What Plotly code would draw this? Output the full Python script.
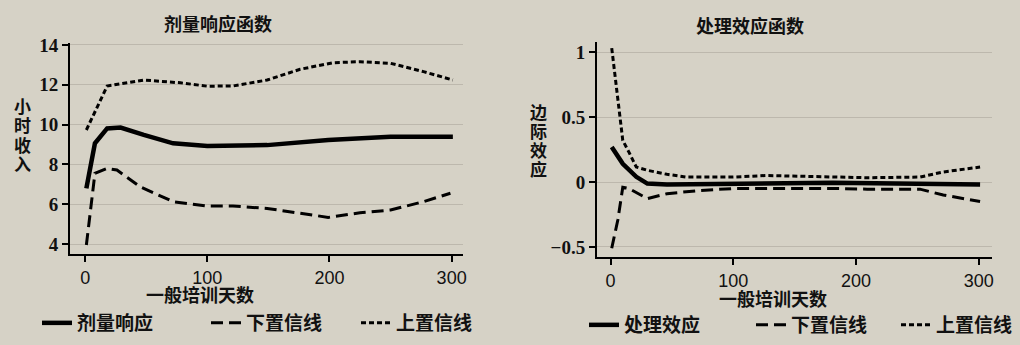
import plotly.graph_objects as go

# ---------------- data ----------------
# Left panel: dose-response function
drf_x = [1, 8, 18, 29, 48, 72, 100, 149, 199, 250, 301]
drf_y = [6.8, 9.06, 9.81, 9.85, 9.48, 9.06, 8.93, 8.97, 9.23, 9.39, 9.39]

drf_up_x = [1, 18, 48, 78, 100, 121, 149, 176, 203, 225, 250, 277, 301]
drf_up_y = [9.73, 11.94, 12.24, 12.1, 11.93, 11.94, 12.24, 12.78, 13.11, 13.16, 13.08, 12.66, 12.24]

drf_lo_x = [1, 8, 18, 26, 45, 72, 100, 121, 149, 176, 199, 225, 250, 277, 299]
drf_lo_y = [3.95, 7.55, 7.8, 7.72, 6.88, 6.13, 5.91, 5.91, 5.79, 5.54, 5.34, 5.57, 5.71, 6.13, 6.55]

# Right panel: treatment-effect function
tef_x = [1, 10, 21, 30, 46, 100, 181, 301]
tef_y = [0.27, 0.14, 0.04, -0.012, -0.02, -0.013, -0.005, -0.02]

tef_up_x = [1, 6, 10, 15, 21, 30, 46, 62, 100, 127, 181, 209, 252, 271, 301]
tef_up_y = [1.03, 0.63, 0.32, 0.23, 0.115, 0.09, 0.059, 0.038, 0.038, 0.05, 0.04, 0.033, 0.038, 0.077, 0.115]

tef_lo_x = [1, 6, 10, 15, 30, 46, 73, 100, 181, 209, 252, 271, 301]
tef_lo_y = [-0.51, -0.29, -0.04, -0.05, -0.128, -0.09, -0.065, -0.05, -0.05, -0.055, -0.055, -0.1, -0.15]

left_yticks = [4, 6, 8, 10, 12, 14]
right_yticks = [-0.5, 0, 0.5, 1]
right_yticklabels = ["−0.5", "0", "0.5", "1"]
xticks = [0, 100, 200, 300]

left_title = "剂量响应函数"
right_title = "处理效应函数"
x_title = "一般培训天数"
left_ytitle = "小时收入"
right_ytitle = "边际效应"
left_names = ["剂量响应", "下置信线", "上置信线"]
right_names = ["处理效应", "下置信线", "上置信线"]

# ---------------- style ----------------
W, H = 1020, 345
BG = "#d6d2c6"
GRID = "#bdb8ad"
CJK = "Noto Sans CJK SC"
CJK_TIGHT = "Liberation Sans, Noto Sans CJK SC"
SERIF = "Liberation Serif"
SANS = "Liberation Sans"

def px_x(p):
    return p / W

def px_y(p):
    return (H - p) / H

fig = go.Figure()

styles = [
    dict(color="black", width=4.5, dash="solid"),
    dict(color="black", width=3, dash="12px,6px"),
    dict(color="black", width=3, dash="5px,3px"),
]

left_series = [(drf_x, drf_y), (drf_lo_x, drf_lo_y), (drf_up_x, drf_up_y)]
right_series = [(tef_x, tef_y), (tef_lo_x, tef_lo_y), (tef_up_x, tef_up_y)]

# legend sample start positions (px) and y centre (px)
left_leg_x = [43, 212, 362]
right_leg_x = [590, 757, 902]
left_leg_y, right_leg_y = 323, 325

legend_layouts = {}
k = 0
for (xs, ys), name, st, lx in zip(left_series, left_names, styles, left_leg_x):
    k += 1
    lid = "legend" if k == 1 else f"legend{k}"
    fig.add_trace(go.Scatter(x=xs, y=ys, mode="lines", name=name, line=st,
                             xaxis="x", yaxis="y", legend=lid))
    legend_layouts[lid] = dict(x=px_x(lx - 6), y=px_y(left_leg_y), xanchor="left", yanchor="middle")
for (xs, ys), name, st, lx in zip(right_series, right_names, styles, right_leg_x):
    k += 1
    lid = f"legend{k}"
    fig.add_trace(go.Scatter(x=xs, y=ys, mode="lines", name=name, line=st,
                             xaxis="x2", yaxis="y2", legend=lid))
    legend_layouts[lid] = dict(x=px_x(lx - 6), y=px_y(right_leg_y), xanchor="left", yanchor="middle")

for lid, d in legend_layouts.items():
    fig.update_layout({lid: dict(orientation="h", bgcolor="rgba(0,0,0,0)", borderwidth=0,
                                 itemclick=False, itemdoubleclick=False,
                                 font=dict(family=CJK, size=19, color="#111", weight="bold"),
                                 **d)})

axis_common = dict(showline=True, linecolor="black", linewidth=2, ticks="outside",
                   ticklen=6, tickwidth=1.5, tickcolor="black", zeroline=False, mirror=False)

fig.update_layout(
    width=W, height=H, paper_bgcolor=BG, plot_bgcolor=BG,
    margin=dict(l=0, r=0, t=0, b=0, autoexpand=False),
    xaxis=dict(domain=[px_x(70), px_x(463)], range=[-12.4, 309.3], anchor="y",
               tickvals=xticks, showgrid=False,
               tickfont=dict(family=SANS, size=18, color="#111"), **axis_common),
    yaxis=dict(domain=[px_y(254), px_y(43)], range=[3.5, 14.1], anchor="x",
               tickvals=left_yticks, showgrid=True, gridcolor=GRID, gridwidth=1,
               tickfont=dict(family=SERIF, size=19, color="#111", weight="bold"), **axis_common),
    xaxis2=dict(domain=[px_x(597), px_x(992)], range=[-11, 310.7], anchor="y2",
                tickvals=xticks, showgrid=False,
                tickfont=dict(family=SANS, size=18, color="#111"), **axis_common),
    yaxis2=dict(domain=[px_y(257), px_y(42)], range=[-0.577, 1.077], anchor="x2",
                tickvals=right_yticks, ticktext=right_yticklabels, showgrid=True,
                gridcolor=GRID, gridwidth=1,
                tickfont=dict(family=SERIF, size=19, color="#111", weight="bold"), **axis_common),
    showlegend=True,
)

ann_font = dict(family=CJK, size=18, color="#111", weight="bold")
anns = [
    dict(text=left_title, x=px_x(218), y=px_y(23)),
    dict(text=right_title, x=px_x(750), y=px_y(25)),
]
for a in anns:
    fig.add_annotation(xref="paper", yref="paper", showarrow=False, font=ann_font,
                       xanchor="center", yanchor="middle", **a)

xt_font = dict(family=CJK_TIGHT, size=18, color="#111", weight="bold")
for xc, yc in [(200, 295), (773, 299)]:
    fig.add_annotation(xref="paper", yref="paper", showarrow=False, font=xt_font,
                       text=x_title, x=px_x(xc), y=px_y(yc), xanchor="center", yanchor="middle")

# vertical (stacked) y-axis titles, one character per row
vt_font = dict(family=CJK_TIGHT, size=17, color="#111", weight="bold")
for i, ch in enumerate(left_ytitle):
    fig.add_annotation(xref="paper", yref="paper", showarrow=False, font=vt_font,
                       text=ch, x=px_x(22), y=px_y(108 + 19 * i), xanchor="center",
                       yanchor="middle")
for i, ch in enumerate(right_ytitle):
    fig.add_annotation(xref="paper", yref="paper", showarrow=False, font=vt_font,
                       text=ch, x=px_x(538), y=px_y(113 + 19 * i), xanchor="center",
                       yanchor="middle")

fig.write_html("out.html", config={"displayModeBar": False},
               post_script="document.body.style.margin='0';document.body.style.overflow='hidden';")
